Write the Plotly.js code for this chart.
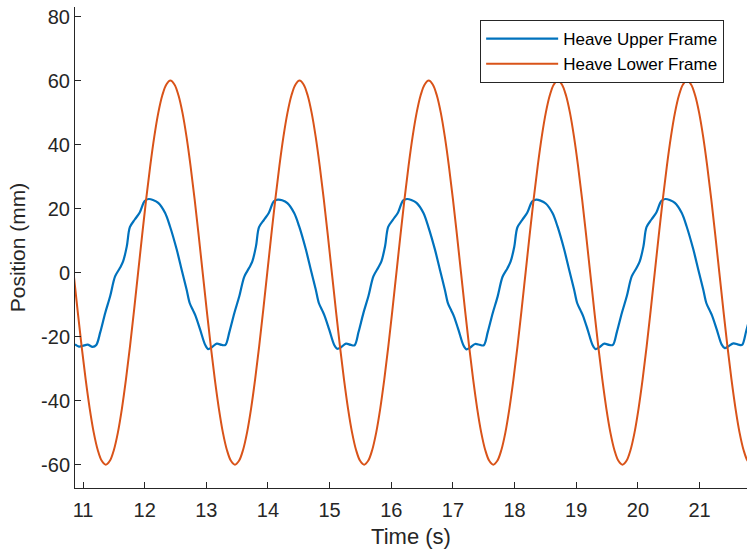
<!DOCTYPE html>
<html>
<head>
<meta charset="utf-8">
<script src="https://cdn.plot.ly/plotly-3.0.1.min.js"></script>
<style>html,body{margin:0;padding:0;background:#fff;}#chart{width:747px;height:556px;}</style>
</head>
<body>
<div id="chart"></div>
<script>
// Heave Upper Frame (blue) — time (s) and position (mm)
const upperTime = [
  10.870,
  10.935, 10.995, 11.075, 11.155, 11.215, 11.280, 11.360, 11.440, 11.520, 11.600, 11.650, 11.710, 11.760, 11.840, 11.920, 12.000, 12.065, 12.135, 12.220, 12.330, 12.410, 12.520, 12.600, 12.680, 12.730, 12.785, 12.825, 12.900, 12.980,
  13.030, 13.090, 13.170, 13.250, 13.310, 13.375, 13.455, 13.535, 13.615, 13.695, 13.745, 13.805, 13.855, 13.935, 14.015, 14.095, 14.160, 14.230, 14.315, 14.425, 14.505, 14.615, 14.695, 14.775, 14.825, 14.880, 14.920, 14.995, 15.075,
  15.125, 15.185, 15.265, 15.345, 15.405, 15.470, 15.550, 15.630, 15.710, 15.790, 15.840, 15.900, 15.950, 16.030, 16.110, 16.190, 16.255, 16.325, 16.410, 16.520, 16.600, 16.710, 16.790, 16.870, 16.920, 16.975, 17.015, 17.090, 17.170,
  17.220, 17.280, 17.360, 17.440, 17.500, 17.565, 17.645, 17.725, 17.805, 17.885, 17.935, 17.995, 18.045, 18.125, 18.205, 18.285, 18.350, 18.420, 18.505, 18.615, 18.695, 18.805, 18.885, 18.965, 19.015, 19.070, 19.110, 19.185, 19.265,
  19.315, 19.375, 19.455, 19.535, 19.595, 19.660, 19.740, 19.820, 19.900, 19.980, 20.030, 20.090, 20.140, 20.220, 20.300, 20.380, 20.445, 20.515, 20.600, 20.710, 20.790, 20.900, 20.980, 21.060, 21.110, 21.165, 21.205, 21.280, 21.360,
  21.410, 21.470, 21.550, 21.630, 21.690, 21.755, 21.835
];
const upperFrame = [
  -22.4,
  -23.1, -22.9, -22.5, -23.2, -22.6, -18.6, -12.6, -7.4, -1.2, 1.5, 3.5, 8.2, 14.2, 16.6, 18.8, 22.4, 23.0, 22.7, 21.8, 18.7, 14.5, 7.2, 0.9, -5.3, -9.5, -11.8, -13.5, -17.8, -22.5,
  -23.9, -23.3, -22.2, -22.6, -22.6, -18.5, -12.6, -7.4, -1.3, 1.5, 3.4, 8.2, 14.2, 16.5, 18.7, 22.3, 22.8, 22.6, 21.7, 18.6, 14.5, 7.2, 0.9, -5.3, -9.5, -11.8, -13.6, -17.9, -22.6,
  -23.8, -23.3, -22.2, -22.6, -22.7, -18.5, -12.5, -7.3, -1.2, 1.6, 3.5, 8.3, 14.3, 16.6, 18.8, 22.5, 23.0, 22.7, 21.8, 18.7, 14.4, 7.1, 0.8, -5.4, -9.6, -11.9, -13.6, -17.9, -22.7,
  -24.0, -23.4, -22.3, -22.6, -22.7, -18.6, -12.7, -7.5, -1.3, 1.4, 3.4, 8.1, 14.1, 16.5, 18.7, 22.2, 22.8, 22.5, 21.6, 18.6, 14.5, 7.2, 0.9, -5.3, -9.5, -11.8, -13.5, -17.8, -22.6,
  -23.9, -23.3, -22.2, -22.6, -22.6, -18.5, -12.6, -7.4, -1.2, 1.5, 3.5, 8.2, 14.2, 16.6, 18.8, 22.4, 23.0, 22.7, 21.8, 18.7, 14.5, 7.2, 0.9, -5.3, -9.5, -11.8, -13.5, -17.8, -22.5,
  -23.6, -23.0, -22.1, -22.5, -22.6, -18.4, -12.5
];

// Heave Lower Frame (orange) — sampled every lowerStep seconds from lowerStart
const lowerStart = 10.846;
const lowerStep = 0.06547;
const lowerFrame = [
  0, -11.7, -23.0, -33.3, -42.4, -49.9, -55.4, -58.8, -60, -58.8, -55.4, -49.9, -42.4, -33.3, -23.0, -11.7,
  0, 11.7, 23.0, 33.3, 42.4, 49.9, 55.4, 58.8, 60, 58.8, 55.4, 49.9, 42.4, 33.3, 23.0, 11.7,
  0, -11.7, -23.0, -33.3, -42.4, -49.9, -55.4, -58.8, -60, -58.8, -55.4, -49.9, -42.4, -33.3, -23.0, -11.7,
  0, 11.7, 23.0, 33.3, 42.4, 49.9, 55.4, 58.8, 60, 58.8, 55.4, 49.9, 42.4, 33.3, 23.0, 11.7,
  0, -11.7, -23.0, -33.3, -42.4, -49.9, -55.4, -58.8, -60, -58.8, -55.4, -49.9, -42.4, -33.3, -23.0, -11.7,
  0, 11.7, 23.0, 33.3, 42.4, 49.9, 55.4, 58.8, 60, 58.8, 55.4, 49.9, 42.4, 33.3, 23.0, 11.7,
  0, -11.7, -23.0, -33.3, -42.4, -49.9, -55.4, -58.8, -60, -58.8, -55.4, -49.9, -42.4, -33.3, -23.0, -11.7,
  0, 11.7, 23.0, 33.3, 42.4, 49.9, 55.4, 58.8, 60, 58.8, 55.4, 49.9, 42.4, 33.3, 23.0, 11.7,
  0, -11.7, -23.0, -33.3, -42.4, -49.9, -55.4, -58.8, -60, -58.8, -55.4, -49.9, -42.4, -33.3, -23.0, -11.7,
  0, 11.7, 23.0, 33.3, 42.4, 49.9, 55.4, 58.8, 60, 58.8, 55.4, 49.9, 42.4, 33.3, 23.0, 11.7,
  0, -11.7, -23.0, -33.3, -42.4, -49.9, -55.4, -58.8, -60
];

const seriesNames = ['Heave Upper Frame', 'Heave Lower Frame'];
const xTickVals = [11, 12, 13, 14, 15, 16, 17, 18, 19, 20, 21];
const xTickText = ['11', '12', '13', '14', '15', '16', '17', '18', '19', '20', '21'];
const yTickVals = [-60, -40, -20, 0, 20, 40, 60, 80];
const yTickText = ['-60', '-40', '-20', '0', '20', '40', '60', '80'];
const xTitle = 'Time (s)';
const yTitle = 'Position (mm)';

const axisColor = '#262626';
const fontFamily = '"Liberation Sans", Arial, Helvetica, sans-serif';

const traces = [
  {
    x: upperTime, y: upperFrame, name: seriesNames[0],
    type: 'scatter', mode: 'lines',
    line: {color: '#0072BD', width: 2.2, shape: 'spline', smoothing: 0.9}
  },
  {
    x0: lowerStart, dx: lowerStep, y: lowerFrame, name: seriesNames[1],
    type: 'scatter', mode: 'lines',
    line: {color: '#D95319', width: 2, shape: 'spline', smoothing: 1}
  }
];

const layout = {
  width: 747, height: 556,
  margin: {l: 75, r: 0, t: 7, b: 68, pad: 0},
  paper_bgcolor: '#ffffff', plot_bgcolor: '#ffffff',
  font: {family: fontFamily, color: axisColor, size: 20},
  showlegend: true,
  legend: {
    x: 0.966, xanchor: 'right', y: 0.973, yanchor: 'top',
    bgcolor: '#ffffff', bordercolor: axisColor, borderwidth: 1,
    font: {family: fontFamily, size: 17, color: '#000000'},
    itemwidth: 72, tracegroupgap: 0
  },
  xaxis: {
    range: [10.87, 21.77], autorange: false,
    showline: true, linecolor: axisColor, linewidth: 1,
    ticks: 'inside', ticklen: 6, tickwidth: 1, tickcolor: axisColor,
    tickmode: 'array', tickvals: xTickVals, ticktext: xTickText,
    tickfont: {family: fontFamily, size: 20, color: axisColor},
    ticklabelstandoff: 4,
    showgrid: false, zeroline: false,
    title: {text: xTitle, font: {family: fontFamily, size: 22, color: axisColor}, standoff: 8}
  },
  yaxis: {
    range: [-67.3, 83], autorange: false,
    showline: true, linecolor: axisColor, linewidth: 1,
    ticks: 'inside', ticklen: 6, tickwidth: 1, tickcolor: axisColor,
    tickmode: 'array', tickvals: yTickVals, ticktext: yTickText,
    tickfont: {family: fontFamily, size: 20, color: axisColor},
    showgrid: false, zeroline: false,
    title: {text: yTitle, font: {family: fontFamily, size: 21, color: axisColor}, standoff: 9}
  }
};

Plotly.newPlot('chart', traces, layout, {staticPlot: true, displayModeBar: false});
</script>
</body>
</html>
